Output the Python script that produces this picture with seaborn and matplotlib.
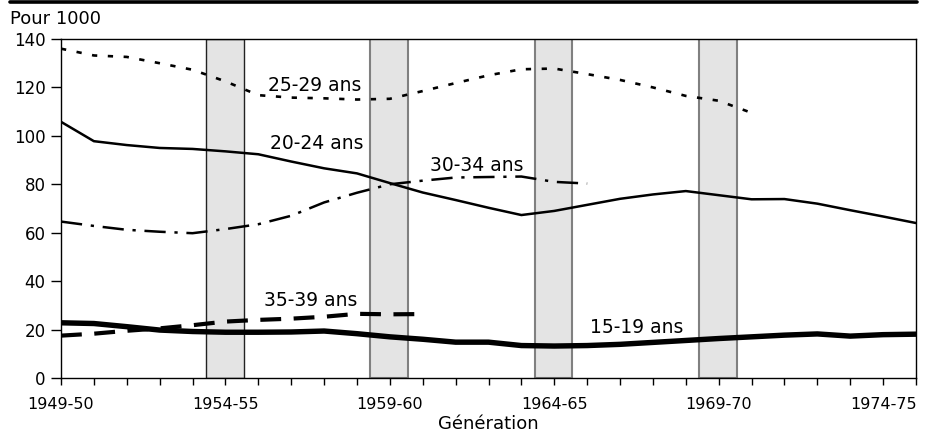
import pandas as pd
import seaborn as sns
import matplotlib.pyplot as plt
from matplotlib.lines import Line2D

# generations 1949-50 ... 1975-76 (index 0..26)
years = list(range(1949, 1976))
gen_labels = [f"{y}-{(y + 1) % 100:02d}" for y in years]

# fertility rates by age group, per 1000 women
rate_15_19 = [22.8, 22.5, 21.2, 19.8, 19.2, 18.9, 18.9, 19.0, 19.4, 18.3, 17.0, 16.0, 14.8, 14.8,
              13.4, 13.2, 13.4, 13.9, 14.7, 15.5, 16.3, 17.0, 17.7, 18.2, 17.3, 17.9, 18.1]
rate_20_24 = [105.8, 97.8, 96.2, 95.0, 94.6, 93.6, 92.4, 89.4, 86.6, 84.5, 80.5, 76.6, 73.5, 70.3,
              67.3, 69.0, 71.5, 74.0, 75.8, 77.2, 75.5, 73.8, 73.9, 72.0, 69.3, 66.7, 64.0]
rate_25_29 = [136.0, 133.2, 132.6, 130.0, 127.3, 122.5, 116.8, 115.8, 115.5, 115.0, 115.3, 118.5,
              121.8, 125.0, 127.5, 127.8, 125.5, 123.1, 120.0, 116.5, 114.5, 109.5]
rate_30_34 = [64.6, 62.8, 61.2, 60.4, 59.8, 61.5, 63.5, 67.0, 72.5, 76.5, 80.0, 81.5, 82.8, 83.0,
              83.2, 81.0, 80.3]
rate_35_39 = [17.5, 18.3, 19.5, 20.5, 21.8, 23.3, 24.0, 24.5, 25.3, 26.5, 26.3, 26.4]

series = {
    "15-19 ans": rate_15_19,
    "20-24 ans": rate_20_24,
    "25-29 ans": rate_25_29,
    "30-34 ans": rate_30_34,
    "35-39 ans": rate_35_39,
}

rows = []
for name, vals in series.items():
    for i, v in enumerate(vals):
        rows.append({"gen": i, "rate": v, "age": name})
df = pd.DataFrame(rows)

# shaded generations
bands = [5, 10, 15, 20]

sns.set_style("white")
plt.rcParams['font.family'] = ['DejaVu Sans']
plt.rcParams['text.color'] = 'black'
plt.rcParams['xtick.color'] = 'black'
plt.rcParams['ytick.color'] = 'black'
plt.rcParams['axes.labelcolor'] = 'black'

fig = plt.figure(figsize=(9.3, 4.34), dpi=100)
ax = fig.add_axes([61 / 930, 56 / 434, 855 / 930, 339 / 434])

for k, b in enumerate(bands):
    ax.axvspan(b - 0.6, b + 0.55, facecolor='#e4e4e4',
               edgecolor='#222222' if k == 0 else '#808080',
               lw=1.0 if k == 0 else 1.5, zorder=0)

dashes = {
    "15-19 ans": "",
    "20-24 ans": "",
    "25-29 ans": (2.0, 4.0),
    "30-34 ans": (8.5, 3.5, 1.3, 3.5),
    "35-39 ans": (5.0, 3.0),
}
sizes = {
    "15-19 ans": 3.9,
    "20-24 ans": 1.8,
    "25-29 ans": 1.9,
    "30-34 ans": 1.8,
    "35-39 ans": 3.0,
}
sns.lineplot(data=df, x="gen", y="rate", hue="age", style="age", size="age",
             palette={k: "black" for k in series}, dashes=dashes, sizes=sizes,
             legend=False, ax=ax, zorder=3)

# series labels
ax.text(6.3, 120.6, "25-29 ans", fontsize=13.5, ha='left', va='center')
ax.text(6.36, 96.7, "20-24 ans", fontsize=13.5, ha='left', va='center')
ax.text(11.22, 87.6, "30-34 ans", fontsize=13.5, ha='left', va='center')
ax.text(6.17, 31.8, "35-39 ans", fontsize=13.5, ha='left', va='center')
ax.text(16.09, 20.7, "15-19 ans", fontsize=13.5, ha='left', va='center')

ax.set_xlim(0, 26)
ax.set_ylim(0, 140)
ax.set_yticks(range(0, 141, 20))
ax.set_xticks(range(0, 27))
ax.set_xticklabels([lab if i % 5 == 0 else "" for i, lab in enumerate(gen_labels)])
ax.tick_params(axis='x', length=5, width=1, pad=9, labelsize=11.5, direction='out', bottom=True)
ax.tick_params(axis='y', length=7, width=1, pad=4, labelsize=12, direction='out', left=True)
for s in ax.spines.values():
    s.set_color('black')
    s.set_linewidth(1)

ax.set_xlabel("Génération", fontsize=13, labelpad=2)
ax.set_ylabel("")
fig.text(10 / 930, 1 - 19.5 / 434, "Pour 1000", fontsize=13, ha='left', va='center')

# black rule at top of the figure
fig.add_artist(Line2D([10 / 930, 917 / 930], [1 - 1.7 / 434, 1 - 1.7 / 434],
                      color='black', lw=2.6, transform=fig.transFigure))

fig.savefig("out.png", dpi=100)
